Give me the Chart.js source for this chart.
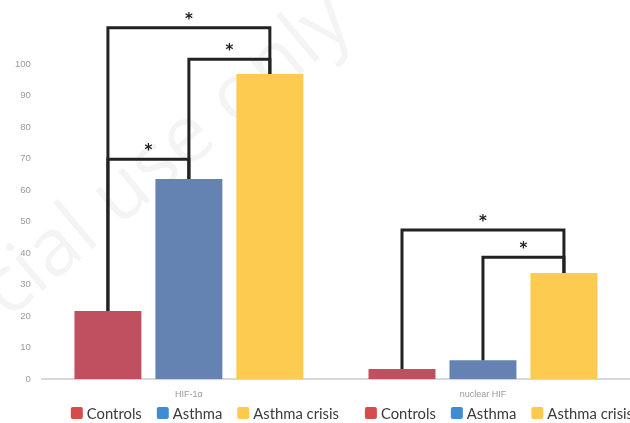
<!DOCTYPE html>
<html lang="en">
<head>
    <meta charset="UTF-8">
    <title>HIF-1α and nuclear HIF</title>
    <script src="https://cdn.jsdelivr.net/npm/chart.js"></script>
    <style>
        body {
            margin: 0;
            background: #fff;
        }
        canvas {
            display: block;
        }
    </style>
</head>
<body>
    <canvas id="hifChart" width="630" height="423"></canvas>

    <script>
        // Categories and series values
        const categories = ['HIF-1α', 'nuclear HIF'];
        const seriesNames = ['Controls', 'Asthma', 'Asthma crisis'];
        const controls = [21.6, 3.2];
        const asthma = [63.5, 6.0];
        const asthmaCrisis = [96.8, 33.7];
        const yTicksMax = 100;

        // Significance brackets: [category, from series, to series, bracket height]
        const brackets = [
            [0, 0, 2, 111.5],
            [0, 1, 2, 101.5],
            [0, 0, 1, 69.8],
            [1, 0, 2, 47.3],
            [1, 1, 2, 38.7]
        ];

        const barColors = ['#c0505f', '#6482b2', '#fdcb50'];
        const legendColors = ['#d64c4c', '#3f8bd6', '#fdc94f'];

        // faint watermark behind everything
        const watermark = {
            id: 'watermark',
            beforeDraw(chart) {
                const c = chart.ctx;
                c.save();
                c.fillStyle = '#fff';
                c.fillRect(0, 0, chart.width, chart.height);
                c.translate(356, 28);
                c.rotate(-40 * Math.PI / 180);
                c.font = '80px "Open Sans", sans-serif';
                c.textAlign = 'right';
                c.textBaseline = 'alphabetic';
                c.fillStyle = 'rgba(0, 0, 0, 0.045)';
                c.fillText('commercial use only', 0, 0);
                c.restore();
            }
        };

        // brackets with stars
        const sigBrackets = {
            id: 'sigBrackets',
            afterDatasetsDraw(chart) {
                const c = chart.ctx;
                const y = chart.scales.y;
                c.save();
                c.strokeStyle = '#222';
                c.lineWidth = 3;
                c.lineJoin = 'miter';
                brackets.forEach(([cat, a, b, h]) => {
                    const barA = chart.getDatasetMeta(a).data[cat];
                    const barB = chart.getDatasetMeta(b).data[cat];
                    const yh = y.getPixelForValue(h);
                    c.beginPath();
                    c.moveTo(barA.x, barA.y);
                    c.lineTo(barA.x, yh);
                    c.lineTo(barB.x, yh);
                    c.lineTo(barB.x, barB.y);
                    c.stroke();
                    c.fillStyle = '#222';
                    c.font = 'bold 15px "DejaVu Sans", sans-serif';
                    c.textAlign = 'center';
                    c.textBaseline = 'middle';
                    c.fillText('*', (barA.x + barB.x) / 2, yh - 8);
                });
                c.restore();
            }
        };

        // one legend under each category
        const groupLegends = {
            id: 'groupLegends',
            afterDraw(chart) {
                const c = chart.ctx;
                const x = chart.scales.x;
                c.save();
                c.font = '14.8px Lato, sans-serif';
                c.textBaseline = 'middle';
                c.textAlign = 'left';
                const box = 12, gap = 4, itemGap = 15;
                const widths = seriesNames.map(n => box + gap + c.measureText(n).width);
                const total = widths.reduce((s, w) => s + w, 0) + itemGap * (seriesNames.length - 1);
                categories.forEach((cat, i) => {
                    let px = x.getPixelForValue(i) - total / 2 + 16;
                    const py = 413;
                    seriesNames.forEach((name, k) => {
                        c.fillStyle = legendColors[k];
                        c.beginPath();
                        c.roundRect(px, py - box / 2, box, box, 2);
                        c.fill();
                        c.fillStyle = '#3a3a3a';
                        c.fillText(name, px + box + gap, py + 1);
                        px += widths[k] + itemGap;
                    });
                });
                c.restore();
            }
        };

        const ctx = document.getElementById('hifChart').getContext('2d');
        const hifChart = new Chart(ctx, {
            type: 'bar',
            data: {
                labels: categories,
                datasets: [
                    { label: seriesNames[0], data: controls, backgroundColor: barColors[0] },
                    { label: seriesNames[1], data: asthma, backgroundColor: barColors[1] },
                    { label: seriesNames[2], data: asthmaCrisis, backgroundColor: barColors[2] }
                ]
            },
            options: {
                responsive: false,
                animation: false,
                categoryPercentage: 0.826,
                barPercentage: 0.827,
                layout: {
                    padding: { left: 4, right: 0, top: 0, bottom: 13 }
                },
                scales: {
                    x: {
                        grid: { display: false, drawTicks: false },
                        border: { color: '#d9d9d9', width: 2 },
                        ticks: {
                            color: '#9a9a9a',
                            font: { size: 9, family: 'Liberation Sans' },
                            padding: 10
                        }
                    },
                    y: {
                        min: 0,
                        max: 115,
                        grid: { display: false, drawTicks: false },
                        border: { display: false },
                        afterBuildTicks(axis) {
                            axis.ticks = axis.ticks.filter(t => t.value <= yTicksMax);
                        },
                        ticks: {
                            stepSize: 10,
                            color: '#9a9a9a',
                            font: { size: 9.5, family: 'Liberation Sans' },
                            padding: 11
                        }
                    }
                },
                plugins: {
                    legend: { display: false },
                    tooltip: { enabled: false }
                }
            },
            plugins: [watermark, sigBrackets, groupLegends]
        });
    </script>
</body>
</html>
